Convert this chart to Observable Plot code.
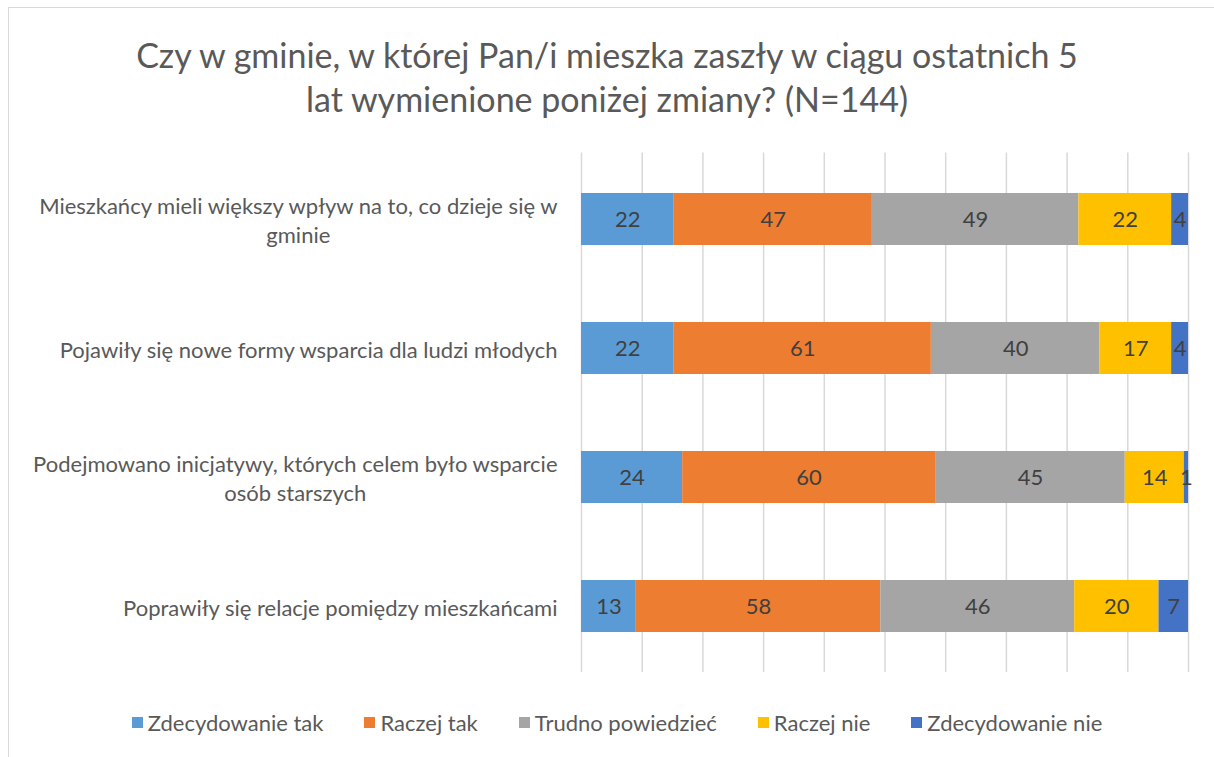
<!DOCTYPE html>
<html><head><meta charset="utf-8">
<script src="https://cdn.jsdelivr.net/npm/d3@7"></script>
<script src="https://cdn.jsdelivr.net/npm/@observablehq/plot@0.6"></script>
<style>
body{margin:0;background:#fff;font-family:Lato,"Open Sans",sans-serif;width:1214px;height:757px;overflow:hidden;position:relative}
#frame{position:absolute;left:8px;top:7px;width:1210px;height:760px;border-left:1.5px solid #d9d9d9;border-top:1.5px solid #d9d9d9;box-sizing:border-box}
#title{position:absolute;left:0;width:1214px;top:33px;text-align:center;font-size:34px;line-height:44px;color:#595959}
#chart{position:absolute;left:0;top:140px}
#legend{position:absolute;left:10px;width:1214px;top:709px;display:flex;justify-content:center;gap:41px;font-size:22px;color:#595959}
.item{display:flex;align-items:center}
.sw{width:11px;height:11px;margin-right:5px}
</style>
</head><body>
<div id="frame"></div>
<div id="title">Czy w gminie, w której Pan/i mieszka zaszły w ciągu ostatnich 5<br>lat wymienione poniżej zmiany? (N=144)</div>
<div id="chart"></div>
<div id="legend"></div>
<script>
const questions = [
  "Mieszkańcy mieli większy wpływ na to, co dzieje się w gminie",
  "Pojawiły się nowe formy wsparcia dla ludzi młodych",
  "Podejmowano inicjatywy, których celem było wsparcie osób starszych",
  "Poprawiły się relacje pomiędzy mieszkańcami"
];
const questionLabels = [
  "Mieszkańcy mieli większy wpływ na to, co dzieje się w\ngminie",
  "Pojawiły się nowe formy wsparcia dla ludzi młodych",
  "Podejmowano inicjatywy, których celem było wsparcie\nosób starszych",
  "Poprawiły się relacje pomiędzy mieszkańcami"
];
const series = ["Zdecydowanie tak", "Raczej tak", "Trudno powiedzieć", "Raczej nie", "Zdecydowanie nie"];
const colors = ["#5B9BD5", "#ED7D31", "#A5A5A5", "#FFC000", "#4472C4"];
const zdecydowanieTak = [22, 22, 24, 13];
const raczejTak = [47, 61, 60, 58];
const trudnoPowiedziec = [49, 40, 45, 46];
const raczejNie = [22, 17, 14, 20];
const zdecydowanieNie = [4, 4, 1, 7];
const gridTicks = [0, 0.1, 0.2, 0.3, 0.4, 0.5, 0.6, 0.7, 0.8, 0.9, 1];

const seriesValues = [zdecydowanieTak, raczejTak, trudnoPowiedziec, raczejNie, zdecydowanieNie];
const data = [];
series.forEach((s, i) => questions.forEach((q, j) => data.push({question: q, category: s, value: seriesValues[i][j]})));
const labelOf = new Map(questions.map((q, i) => [q, questionLabels[i]]));

const plot = Plot.plot({
  width: 1214,
  height: 550,
  marginTop: 12.5,
  marginBottom: 18,
  marginLeft: 581,
  marginRight: 26,
  style: {fontFamily: "Lato, 'Open Sans', sans-serif", fontSize: "22px", color: "#595959", background: "transparent"},
  x: {domain: [0, 1], axis: null},
  y: {domain: questions, paddingInner: 0.6, paddingOuter: 0.3, label: null},
  color: {domain: series, range: colors},
  marks: [
    Plot.gridX(gridTicks, {stroke: "#d9d9d9", strokeOpacity: 1, strokeWidth: 1.5}),
    Plot.barX(data, Plot.stackX({x: "value", y: "question", fill: "category", offset: "normalize", order: series})),
    Plot.text(data, Plot.stackX({x: "value", y: "question", z: "category", text: "value", offset: "normalize", order: series, fill: "#404040", fontSize: 22})),
    Plot.axisY({tickSize: 0, tickPadding: 24, tickFormat: d => labelOf.get(d), lineHeight: 1.32, fontSize: 22, label: null})
  ]
});
document.getElementById("chart").append(plot);
plot.querySelectorAll('g[aria-label="y-axis tick label"] text').forEach(t => {
  const spans = t.querySelectorAll("tspan");
  if (spans.length < 2) return;
  let w = 0;
  spans.forEach(s => w = Math.max(w, s.getComputedTextLength()));
  t.setAttribute("text-anchor", "middle");
  spans.forEach(s => s.setAttribute("x", -w / 2));
});

const legend = document.getElementById("legend");
series.forEach((s, i) => {
  const item = document.createElement("div");
  item.className = "item";
  const sw = document.createElement("span");
  sw.className = "sw";
  sw.style.background = colors[i];
  const label = document.createElement("span");
  label.textContent = s;
  item.append(sw, label);
  legend.append(item);
});
</script>
</body></html>
